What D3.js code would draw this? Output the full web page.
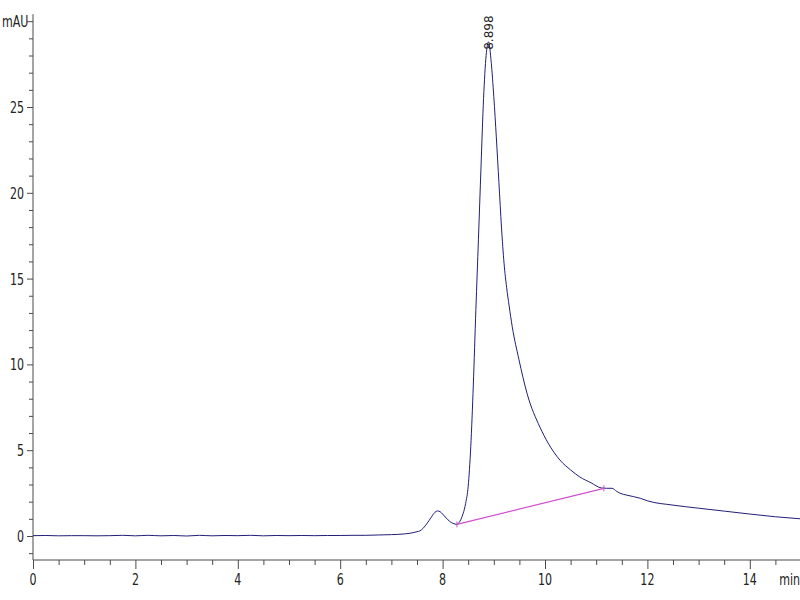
<!DOCTYPE html>
<html><head><meta charset="utf-8">
<script src="https://cdn.jsdelivr.net/npm/d3@7"></script>
<style>body{margin:0;background:#fff}svg{display:block}</style>
</head><body>
<svg id="c" width="800" height="600"></svg>
<script>
// chromatogram signal (time in min, absorbance in mAU)
const times = [0,0.25,0.5,0.75,1.0,1.25,1.5,1.75,2.0,2.25,2.5,2.75,3.0,3.25,3.5,3.75,4.0,4.25,4.5,4.75,5.0,5.25,5.5,5.75,6.0,6.25,6.5,
  6.75,7.0,7.25,7.4,7.5,7.56,7.62,7.7,7.78,7.85,7.9,7.95,8.0,8.07,8.14,8.2,8.28,8.32,8.36,8.4,8.45,8.5,8.55,8.6,8.65,8.7,8.75,8.8,8.85,8.898,
  8.95,9.0,9.05,9.1,9.15,9.2,9.25,9.3,9.36,9.49,9.65,9.9,10.06,10.29,10.5,10.68,10.9,11.1,11.2,11.31,11.4,11.46,11.6,11.86,12.0,12.5,13.0,13.5,14.0,14.5,15.0];
const mAU = [0.02,0.03,0.01,0.02,0.02,0.01,0.02,0.04,0.01,0.04,0.01,0.03,0.0,0.04,0.01,0.03,0.02,0.04,0.01,0.03,0.02,0.03,0.02,0.03,0.03,0.04,0.04,
  0.06,0.08,0.12,0.18,0.25,0.30,0.45,0.75,1.1,1.38,1.46,1.42,1.28,1.05,0.85,0.74,0.68,0.78,0.98,1.3,1.9,2.9,5.2,8.8,13.2,17.3,21.5,25.5,28.0,28.8,
  27.6,25.6,23.2,20.6,18.0,15.9,14.5,13.4,12.2,10.3,8.3,6.35,5.42,4.43,3.85,3.44,3.1,2.8,2.78,2.78,2.6,2.5,2.38,2.2,2.05,1.8,1.62,1.45,1.28,1.12,1.0];
// integration baseline
const baseT = [8.28, 11.15];
const baseV = [0.68, 2.78];
// peak label
const peakT = 8.898, peakV = 28.8, peakLabel = "8.898";
// axis ticks
const xLabels = [0,2,4,6,8,10,12,14];
const yLabels = [0,5,10,15,20,25];
const xUnit = "min", yUnit = "mAU";

const svg = d3.select("#c");
const x = d3.scaleLinear().domain([0,15]).range([33, 801]);
const y = d3.scaleLinear().domain([0,25]).range([536, 107]);
const axisColor = "#4a4a4a";
const fontFam = "'Liberation Sans Narrow','DejaVu Sans Condensed',sans-serif";

function label(txt, px, py, anchor){
  svg.append("g").attr("transform",`translate(${px},${py})`)
    .append("text").attr("transform","scale(0.82,1)")
    .attr("text-anchor",anchor).attr("font-family",fontFam).attr("font-size",15)
    .attr("fill","#222").text(txt);
}

// Y axis
const yAx = svg.append("g").attr("transform","translate(33,0)")
  .call(d3.axisLeft(y).tickValues(d3.range(-1,31)).tickFormat("").tickSizeOuter(0));
yAx.select(".domain").attr("d", `M0,${y(30)-7}V560`).attr("stroke",axisColor);
yAx.selectAll(".tick line").attr("stroke",axisColor).attr("x2", d => d%5===0 ? -6 : -4);
yLabels.forEach(v => label(String(v), 24, y(v)+6, "end"));
label(yUnit, 2, y(30)+6, "start");

// X axis
const xAx = svg.append("g").attr("transform","translate(0,560)")
  .call(d3.axisBottom(x).tickValues(d3.range(0,15.01,0.5)).tickFormat("").tickSizeOuter(0));
xAx.select(".domain").attr("d","M33,0H800").attr("stroke",axisColor);
xAx.selectAll(".tick line").attr("stroke",axisColor).attr("y2", d => (d%2===0) ? 9 : 5);
xLabels.forEach(v => label(String(v), x(v), 585, "middle"));
label(xUnit, 800, 585, "end");

// signal
const pts = times.map((t,i)=>[t,mAU[i]]);
svg.append("path").datum(pts)
  .attr("d", d3.line().x(d=>x(d[0])).y(d=>y(d[1])).curve(d3.curveMonotoneX))
  .attr("fill","none").attr("stroke","#1f1f78").attr("stroke-width",1);

// baseline
svg.append("line").attr("x1",x(baseT[0])).attr("y1",y(baseV[0])).attr("x2",x(baseT[1])).attr("y2",y(baseV[1]))
  .attr("stroke","#d050d0").attr("stroke-width",1.2);
baseT.forEach((t,i)=>{
  svg.append("line").attr("x1",x(t)).attr("x2",x(t)).attr("y1",y(baseV[i])-3).attr("y2",y(baseV[i])+3)
    .attr("stroke","#d050d0").attr("stroke-width",1);
});

// peak label
svg.append("text").attr("transform",`translate(${x(peakT)+4},${y(peakV)+8}) rotate(-90)`)
  .attr("font-family","'DejaVu Sans',sans-serif").attr("font-size",12).attr("fill","#222")
  .text(peakLabel);
</script>
</body></html>
